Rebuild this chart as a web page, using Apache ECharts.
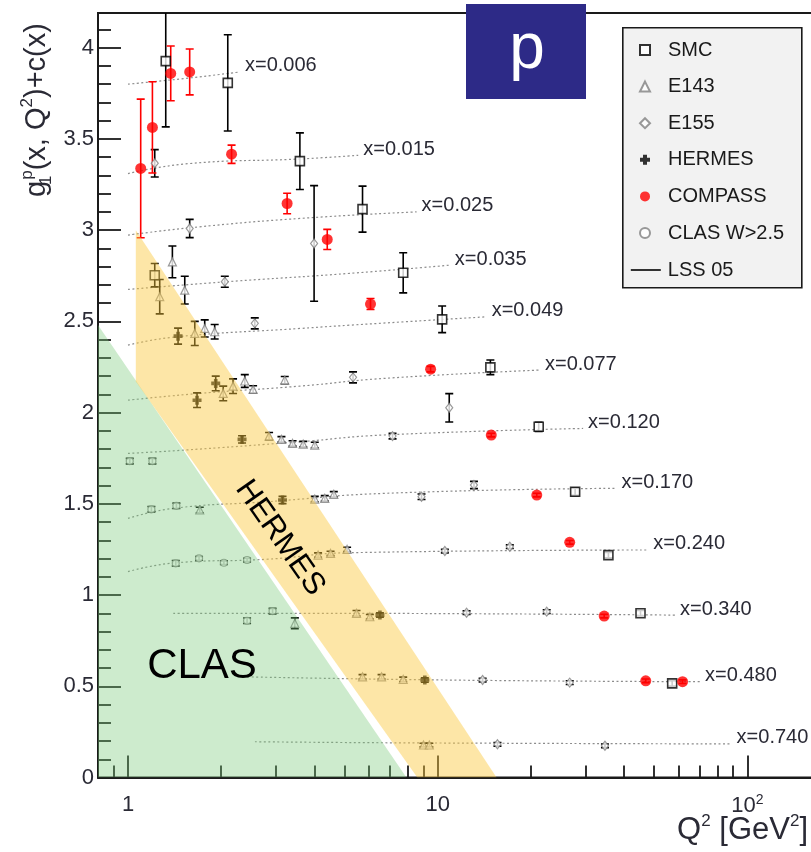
<!DOCTYPE html>
<html><head><meta charset="utf-8">
<script src="https://cdn.jsdelivr.net/npm/echarts@6/dist/echarts.min.js"></script>
<style>html,body{margin:0;padding:0;background:#fff}#c{width:811px;height:852px}</style>
</head><body><div id="c"></div>
<script>
// ---- data: [Q2, g1p + c(x), error] ----
const SMC = [[1.324,3.926,0.36],[2.10,3.807,0.264],[3.59,3.378,0.155],[5.72,3.115,0.126],[7.74,2.766,0.11],
  [10.34,2.511,0.073],[14.8,2.248,0.04],[21.2,1.922,0.025],[27.8,1.566,0.02],[35.6,1.219,0.015],
  [45.2,0.90,0.015],[57.2,0.516,0.015],[1.22,2.753,0.064]];
const E143 = [[1.391,2.826,0.087],[1.525,2.671,0.076],[1.266,2.635,0.094],[1.643,2.434,0.066],[1.769,2.461,0.047],
  [1.905,2.443,0.04],[2.03,2.105,0.04],[2.184,2.145,0.04],[2.383,2.173,0.035],[2.535,2.127,0.02],[3.208,2.178,0.02],
  [2.855,1.871,0.02],[3.13,1.853,0.015],[3.40,1.831,0.015],[3.68,1.827,0.015],[4.01,1.822,0.015],
  [4.01,1.526,0.015],[4.32,1.53,0.015],[4.62,1.552,0.015],[4.11,1.219,0.012],[4.51,1.228,0.012],[5.10,1.25,0.012],
  [5.47,0.90,0.015],[6.04,0.881,0.012],[5.72,0.552,0.012],[6.59,0.552,0.012],[7.74,0.538,0.012],
  [9.0,0.178,0.01],[9.4,0.178,0.01],[3.457,0.845,0.03],[1.705,1.466,0.015]];
const E155 = [[1.22,3.366,0.075],[1.582,3.009,0.05],[3.99,2.927,0.317],[2.054,2.717,0.03],[2.567,2.489,0.03],
  [5.33,2.193,0.03],[10.9,2.026,0.078],[7.15,1.871,0.015],[13.1,1.603,0.02],[8.87,1.539,0.015],[10.55,1.241,0.01],
  [17.1,1.265,0.01],[12.4,0.903,0.01],[22.5,0.909,0.01],[13.97,0.534,0.01],[26.7,0.52,0.01],[15.6,0.182,0.01],[34.7,0.174,0.01]];
const HERMES = [[1.451,2.419,0.044],[1.671,2.068,0.04],[1.92,2.16,0.04],[2.335,1.853,0.02],[3.155,1.521,0.02],
  [6.51,0.89,0.012],[9.09,0.534,0.012]];
const COMPASS = [[1.099,3.338,0.38],[1.199,3.563,0.25],[1.374,3.859,0.15],[1.582,3.867,0.126],[2.16,3.416,0.05],
  [3.265,3.146,0.056],[4.40,2.949,0.055],[6.07,2.595,0.03],[9.49,2.238,0.015],[14.9,1.877,0.01],[20.9,1.548,0.01],
  [26.7,1.289,0.01],[34.5,0.885,0.01],[47.0,0.53,0.01],[61.8,0.525,0.01]];
const CLAS = [[1.013,1.734,0.015],[1.199,1.734,0.015],[1.19,1.47,0.015],[1.433,1.489,0.015],[1.426,1.174,0.015],
  [1.696,1.201,0.01],[2.04,1.177,0.01],[2.424,1.192,0.01],[2.424,0.859,0.015],[2.93,0.912,0.015]];

// LSS 05 curves, one per x bin
const binLabels = ['x=0.006','x=0.015','x=0.025','x=0.035','x=0.049','x=0.077','x=0.120','x=0.170','x=0.240','x=0.340','x=0.480','x=0.740'];
const lss006 = [[1.0,3.80],[1.6,3.835],[2.3,3.867]];
const lss015 = [[1.0,3.31],[1.58,3.365],[3.59,3.39],[5.54,3.41]];
const lss025 = [[1.0,2.973],[1.7,3.018],[3.59,3.064],[8.55,3.10]];
const lss035 = [[1.0,2.675],[2.08,2.717],[5.2,2.763],[10.95,2.808]];
const lss049 = [[1.0,2.37],[1.43,2.415],[3.59,2.461],[5.2,2.479],[14.4,2.525]];
const lss077 = [[1.0,2.068],[1.7,2.105],[3.59,2.145],[6.67,2.187],[21.4,2.233]];
const lss120 = [[1.0,1.776],[1.54,1.795],[3.59,1.84],[6.67,1.877],[29.5,1.913]];
const lss170 = [[1.0,1.42],[1.4,1.475],[2.8,1.511],[6.67,1.557],[37.8,1.585]];
const lss240 = [[1.0,1.128],[1.43,1.177],[2.8,1.196],[5.2,1.232],[47.9,1.247]];
const lss340 = [[1.4,0.90],[3.59,0.90],[58.4,0.89]];
const lss480 = [[2.35,0.552],[10.95,0.534],[70.4,0.525]];
const lss740 = [[2.57,0.196],[7.5,0.19],[89.0,0.184]];
const lssCurves = [lss006,lss015,lss025,lss035,lss049,lss077,lss120,lss170,lss240,lss340,lss480,lss740];

// kinematic regions
const clasRegion = [[0.8,2.48],[0.8,0],[7.93,0]];
const hermesRegion = [[1.06,3.0],[15.5,0],[8.6,0],[1.06,2.17]];

// tick values
const yMajor = [0,0.5,1,1.5,2,2.5,3,3.5,4];
const yMinor = [0.1,0.2,0.3,0.4,0.6,0.7,0.8,0.9,1.1,1.2,1.3,1.4,1.6,1.7,1.8,1.9,2.1,2.2,2.3,2.4,2.6,2.7,2.8,2.9,3.1,3.2,3.3,3.4,3.6,3.7,3.8,3.9,4.1];
const xMajor = [1,10,100];
const xMinor = [0.9,2,3,4,5,6,7,8,9,20,30,40,50,60,70,80,90,200];

const chart = echarts.init(document.getElementById('c'), null, {renderer:'canvas'});
const FONT = 'Liberation Sans, Arial, sans-serif';
const TXT = '#2a2a35';

function errSeries(name, data, color) {
  return {
    type:'custom', name:name, data:data, z:2, clip:true, silent:true,
    renderItem(params, api) {
      const x = api.value(0), y = api.value(1), e = api.value(2);
      const t = api.coord([x, y + e]), b = api.coord([x, y - e]);
      const c = 4, st = {stroke:color, lineWidth:1.6};
      return {type:'group', children:[
        {type:'line', shape:{x1:t[0],y1:t[1],x2:b[0],y2:b[1]}, style:st},
        {type:'line', shape:{x1:t[0]-c,y1:t[1],x2:t[0]+c,y2:t[1]}, style:st},
        {type:'line', shape:{x1:b[0]-c,y1:b[1],x2:b[0]+c,y2:b[1]}, style:st}
      ]};
    }
  };
}
function regionSeries(pts, color, opacity) {
  return {
    type:'custom', data:[0], z:10, silent:true, clip:true,
    renderItem(params, api) {
      return {type:'polygon', shape:{points: pts.map(p => api.coord(p))},
        style:{fill:color, opacity:opacity}};
    }
  };
}
function scatter(name, data, symbol, size, style) {
  return {type:'scatter', name:name, data:data.map(d => [d[0], d[1]]), symbol:symbol, symbolSize:size,
    itemStyle:style, z:3, silent:true, clip:true};
}

const series = [];
lssCurves.forEach((c, i) => {
  series.push({type:'line', name:'LSS 05', data:c, smooth:true, symbol:'none', z:1, silent:true,
    itemStyle:{color:'#8c8c8c'},
    lineStyle:{color:'#8c8c8c', width:1.2, type:[2,2.5]},
    endLabel:{show:true, formatter:binLabels[i], fontSize:20, fontFamily:FONT, color:TXT, offset:[0,-6], distance:5}});
});
series.push(errSeries('SMC err', SMC, '#000'));
series.push(errSeries('E143 err', E143, '#000'));
series.push(errSeries('E155 err', E155, '#000'));
series.push(errSeries('HERMES err', HERMES, '#000'));
series.push(errSeries('COMPASS err', COMPASS, '#f00'));
series.push(errSeries('CLAS err', CLAS, '#000'));
series.push(scatter('SMC', SMC, 'rect', 9, {color:'#fff', borderColor:'#000', borderWidth:1.6}));
series.push(scatter('E143', E143, 'triangle', 8, {color:'#fff', borderColor:'#808080', borderWidth:1.2}));
series.push(scatter('E155', E155, 'diamond', [7,9], {color:'#fff', borderColor:'#808080', borderWidth:1.2}));
series.push(scatter('HERMES', HERMES, 'path://M3,0H7V3H10V7H7V10H3V7H0V3H3Z', 9, {color:'#000'}));
series.push(scatter('COMPASS', COMPASS, 'circle', 11, {color:'#ff0000'}));
series.push(scatter('CLAS W>2.5', CLAS, 'circle', 7, {color:'#fff', borderColor:'#808080', borderWidth:1.2}));
series.push(regionSeries(clasRegion, 'rgb(120,200,120)', 0.37));
series.push(regionSeries(hermesRegion, 'rgb(250,200,60)', 0.45));

const axisLineStyle = {color:'#1a1a1a', width:2};
const option = {
  animation:false,
  grid:{left:98, top:13, width:742.5, height:764.5, show:true, borderColor:'#1a1a1a', borderWidth:2,
    backgroundColor:'transparent', containLabel:false, outerBoundsMode:'none'},
  xAxis:[
    {type:'log', logBase:10, min:0.8, max:200, position:'bottom',
      axisLine:{show:true, lineStyle:axisLineStyle},
      axisTick:{show:true, inside:true, length:22, customValues:xMajor, lineStyle:{color:'#1a1a1a', width:1.8}},
      axisLabel:{show:true, customValues:xMajor, margin:16, fontSize:22, fontFamily:FONT, color:TXT,
        formatter:v => { const r = Math.round(v); return r === 100 ? '{b|10}{s|2}' : String(r); },
        rich:{b:{fontSize:22, fontFamily:FONT, color:TXT}, s:{fontSize:14, fontFamily:FONT, color:TXT, verticalAlign:'top', padding:[0,0,10,0]}}},
      splitLine:{show:false}, minorTick:{show:false}},
    {type:'log', logBase:10, min:0.8, max:200, position:'bottom',
      axisLine:{show:false},
      axisTick:{show:true, inside:true, length:12, customValues:xMinor, lineStyle:{color:'#1a1a1a', width:1.8}},
      axisLabel:{show:false}, splitLine:{show:false}}
  ],
  yAxis:[
    {type:'value', min:0, max:4.19, position:'left',
      axisLine:{show:true, lineStyle:axisLineStyle},
      axisTick:{show:true, inside:true, length:23, customValues:yMajor, lineStyle:{color:'#1a1a1a', width:1.8}},
      axisLabel:{show:true, customValues:yMajor, margin:4, fontSize:22, fontFamily:FONT, color:TXT,
        formatter:v => String(Math.round(v*10)/10)},
      splitLine:{show:false}},
    {type:'value', min:0, max:4.19, position:'left',
      axisLine:{show:false},
      axisTick:{show:true, inside:true, length:13, customValues:yMinor, lineStyle:{color:'#1a1a1a', width:1.8}},
      axisLabel:{show:false}, splitLine:{show:false}}
  ],
  legend:[
    {orient:'vertical', left:639, top:40, itemWidth:10, itemHeight:10, itemGap:16.6, selectedMode:false,
      padding:0, data:['SMC','E143','E155','HERMES','COMPASS','CLAS W>2.5'],
      textStyle:{fontSize:20, fontFamily:FONT, color:'#1a1a1a', padding:[0,0,0,13]}},
    {orient:'vertical', left:630, top:260, itemWidth:30, itemHeight:10, selectedMode:false, padding:0,
      data:[{name:'LSS 05', itemStyle:{opacity:0}, lineStyle:{color:'#000', type:'solid', width:1.6}}],
      textStyle:{fontSize:20, fontFamily:FONT, color:'#1a1a1a', padding:[0,0,0,2]}}
  ],
  graphic:[
    {type:'rect', left:622, top:27, z:-1, shape:{width:179, height:260},
      style:{fill:'#f2f2f2', stroke:'#1a1a1a', lineWidth:1.6}},
    {type:'rect', left:466, top:4, z:20, shape:{width:120, height:95}, style:{fill:'#2d2a87'}},
    {type:'text', x:527, y:50, z:21, style:{text:'p', fill:'#fff', fontSize:64, fontFamily:FONT, align:'center', verticalAlign:'middle'}},
    {type:'text', x:202, y:666, z:21, style:{text:'CLAS', fill:'#000', fontSize:42, fontFamily:FONT, align:'center', verticalAlign:'middle'}},
    {type:'text', x:280, y:538, z:21, rotation:-55*Math.PI/180,
      style:{text:'HERMES', fill:'#000', fontSize:31, fontFamily:FONT, align:'center', verticalAlign:'middle'}},
    {type:'text', x:37, y:110, z:21, rotation:Math.PI/2,
      style:{text:'{m|g}{sb|1}{sp|p}{m|(x, Q}{sp|2}{m|)+c(x)}', align:'center', verticalAlign:'middle',
        rich:{m:{fontSize:29, fontFamily:FONT, fill:TXT, lineHeight:36, verticalAlign:'middle'},
              sb:{fontSize:17, fontFamily:FONT, fill:TXT, verticalAlign:'bottom', lineHeight:17, width:1},
              sp:{fontSize:17, fontFamily:FONT, fill:TXT, verticalAlign:'top', lineHeight:17}}}},
    {type:'text', x:808, y:830, z:21,
      style:{text:'{m|Q}{sp|2}{m| [GeV}{sp|2}{m|]}', align:'right', verticalAlign:'middle',
        rich:{m:{fontSize:31, fontFamily:FONT, fill:TXT, lineHeight:34, verticalAlign:'middle'},
              sp:{fontSize:17, fontFamily:FONT, fill:TXT, verticalAlign:'top', lineHeight:17}}}}
  ],
  series:series
};
chart.setOption(option);
</script></body></html>
